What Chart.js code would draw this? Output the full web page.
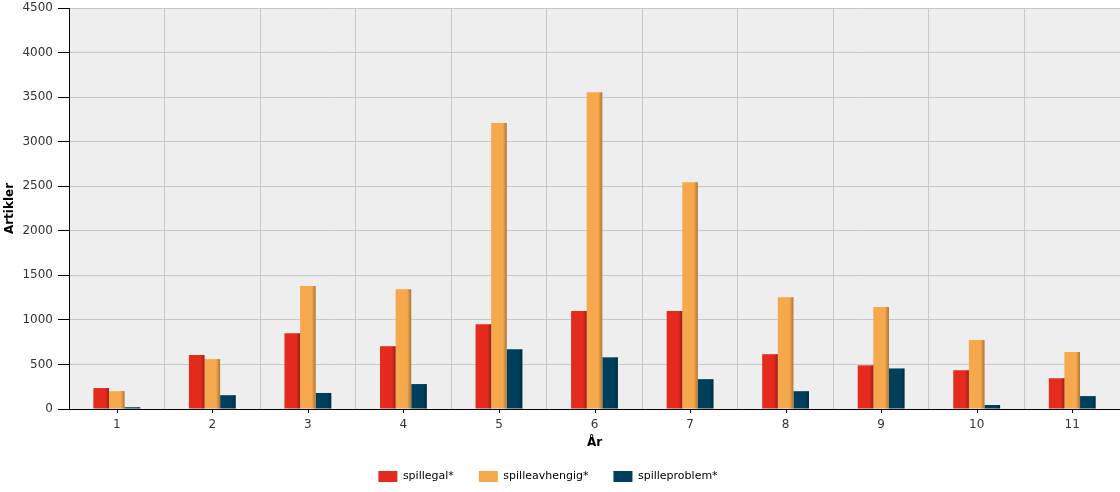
<!DOCTYPE html>
<html lang="no">
<head>
    <meta charset="UTF-8">
    <title>Artikler per år</title>
    <script src="https://cdn.jsdelivr.net/npm/chart.js"></script>
    <style>
        body { margin: 0; background: #fff; }
    </style>
</head>
<body>
    <canvas id="chart" width="1120" height="492"></canvas>

    <script>
        // Data
        const years = ['1', '2', '3', '4', '5', '6', '7', '8', '9', '10', '11'];
        const spillegal = [235, 605, 850, 705, 950, 1100, 1100, 615, 490, 435, 345];
        const spilleavhengig = [200, 560, 1380, 1345, 3210, 3555, 2545, 1255, 1145, 775, 640];
        const spilleproblem = [20, 155, 180, 280, 670, 580, 335, 200, 455, 45, 145];

        const font = 'DejaVu Sans';

        // grey plot background
        const plotBackground = {
            id: 'plotBackground',
            beforeDraw(chart) {
                const { ctx, chartArea: a } = chart;
                ctx.save();
                ctx.fillStyle = '#eeeeee';
                ctx.fillRect(a.left, a.top, a.right - a.left, a.bottom - a.top);
                ctx.restore();
            },
            // legend in the reference sits a bit left of centre
            afterLayout(chart) {
                chart.legend.left -= 12;
                chart.legend.right -= 12;
            }
        };

        // darker strip on the right edge of each bar, plus x tick marks at category centres
        const barShade = {
            id: 'barShade',
            afterDatasetsDraw(chart) {
                const ctx = chart.ctx;
                ctx.save();
                chart.data.datasets.forEach((ds, i) => {
                    chart.getDatasetMeta(i).data.forEach(bar => {
                        const right = bar.x + bar.width / 2;
                        const g = ctx.createLinearGradient(right - 4, 0, right, 0);
                        g.addColorStop(0, 'rgba(0,0,0,0)');
                        g.addColorStop(1, 'rgba(0,0,0,0.3)');
                        ctx.fillStyle = g;
                        ctx.fillRect(right - 4, bar.y, 4, bar.base - bar.y);
                    });
                });
                const x = chart.scales.x;
                ctx.strokeStyle = '#000';
                ctx.lineWidth = 1;
                years.forEach((y, i) => {
                    const px = Math.round(x.getPixelForValue(i)) + 0.5;
                    ctx.beginPath();
                    ctx.moveTo(px, x.top);
                    ctx.lineTo(px, x.top + 4);
                    ctx.stroke();
                });
                ctx.restore();
            }
        };

        new Chart(document.getElementById('chart'), {
            type: 'bar',
            data: {
                labels: years,
                datasets: [
                    { label: 'spillegal*', data: spillegal, backgroundColor: '#e42b1e' },
                    { label: 'spilleavhengig*', data: spilleavhengig, backgroundColor: '#f6a84c' },
                    { label: 'spilleproblem*', data: spilleproblem, backgroundColor: '#003f5c' }
                ]
            },
            options: {
                responsive: false,
                animation: false,
                devicePixelRatio: 1,
                layout: { padding: 0 },
                datasets: {
                    bar: { categoryPercentage: 0.49, barPercentage: 1.0, borderWidth: 0 }
                },
                scales: {
                    x: {
                        grid: { color: '#c8c8c8', offset: true, drawTicks: false },
                        border: { color: '#000', width: 1 },
                        ticks: { color: '#333', font: { family: font, size: 12 }, padding: 9 },
                        title: {
                            display: true, text: 'År', color: '#000',
                            font: { family: font, size: 12, weight: 'bold', lineHeight: 0.6 },
                            padding: 0
                        },
                        afterFit(scale) { scale.height = 37; }
                    },
                    y: {
                        min: 0, max: 4500,
                        grid: { color: '#c8c8c8', tickColor: '#000', tickLength: 11 },
                        border: { color: '#000', width: 1 },
                        ticks: {
                            stepSize: 500, color: '#333', font: { family: font, size: 12 }, padding: 5,
                            callback: v => String(v)
                        },
                        title: {
                            display: true, text: 'Artikler', color: '#000',
                            font: { family: font, size: 12, weight: 'bold' },
                            padding: { top: 3, bottom: 0 }
                        },
                        afterFit(scale) {
                            scale.width = 69;
                            scale.paddingTop = 8;
                        }
                    }
                },
                plugins: {
                    legend: {
                        position: 'bottom',
                        labels: {
                            boxWidth: 19, boxHeight: 11, padding: 25,
                            color: '#000', font: { family: font, size: 11 }
                        }
                    },
                    tooltip: { enabled: false }
                }
            },
            plugins: [plotBackground, barShade]
        });
    </script>
</body>
</html>
